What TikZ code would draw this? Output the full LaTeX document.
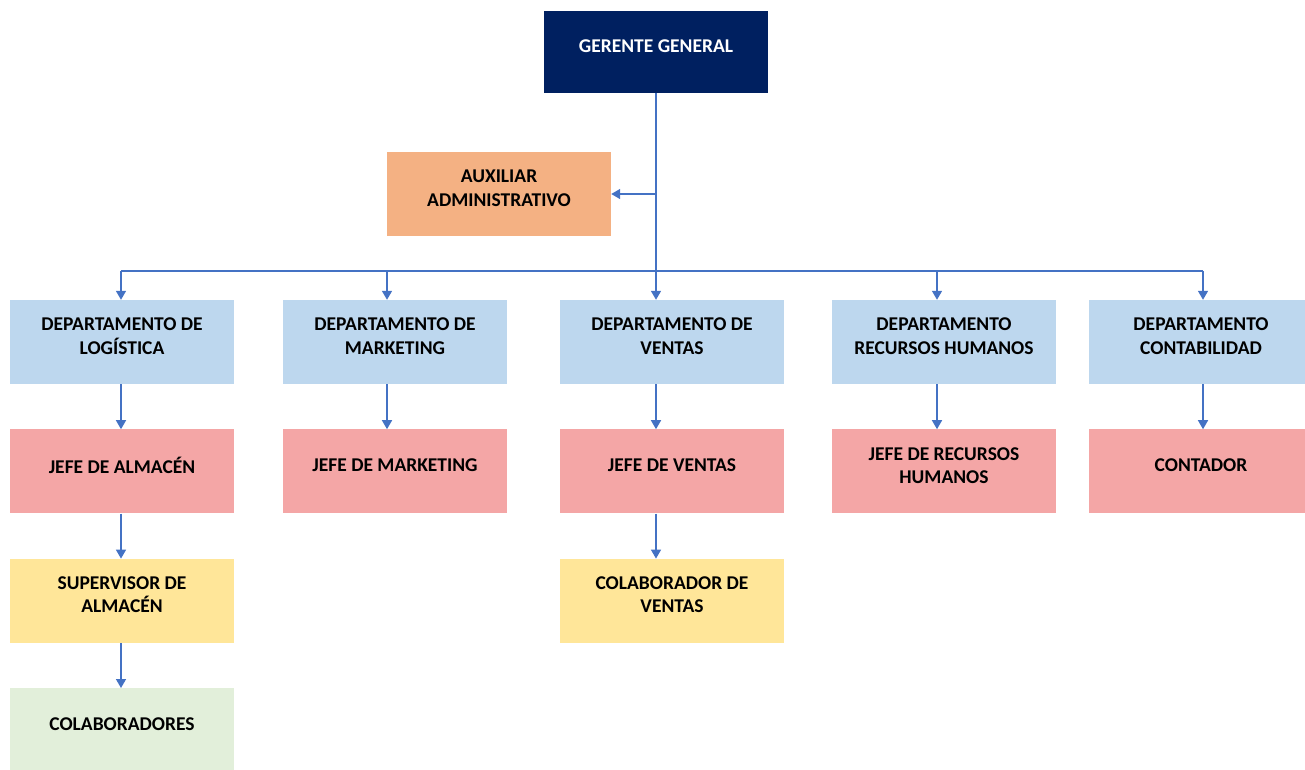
\documentclass[tikz,border=0pt]{standalone}
\usepackage{fontspec}
\setmainfont{Carlito}
\usetikzlibrary{positioning,arrows.meta}
\definecolor{navy}{HTML}{002060}
\definecolor{orangebox}{HTML}{F4B183}
\definecolor{bluebox}{HTML}{BDD7EE}
\definecolor{pinkbox}{HTML}{F4A6A6}
\definecolor{yellowbox}{HTML}{FFE699}
\definecolor{greenbox}{HTML}{E2EFDA}
\definecolor{lineblue}{HTML}{4472C4}
\begin{document}
\begin{tikzpicture}[x=1pt,y=-1pt,node distance=45pt]
        \tikzstyle{box} = [rectangle, minimum width=224pt, minimum height=84pt, inner sep=0pt, align=center, text depth=12pt, font=\bfseries\fontsize{19.5}{23.5}\selectfont]
        \tikzstyle{line} = [line width=1.5pt, draw=lineblue]
        \tikzstyle{arrow} = [line, -{Triangle[length=9pt,width=10pt]}]
        \useasboundingbox (0,0) rectangle (1305,769);
        \node (gerente) [box, fill=navy, text=white, minimum height=82pt] at (656,52) {GERENTE GENERAL};
        \node (auxiliar) [box, fill=orangebox] at (499,194) {AUXILIAR\\ADMINISTRATIVO};

        \node (dlog) [box, fill=bluebox] at (122,342) {DEPARTAMENTO DE\\LOGÍSTICA};
        \node (dmkt) [box, fill=bluebox] at (395,342) {DEPARTAMENTO DE\\MARKETING};
        \node (dven) [box, fill=bluebox] at (672,342) {DEPARTAMENTO DE\\VENTAS};
        \node (drh) [box, fill=bluebox] at (944,342) {DEPARTAMENTO\\RECURSOS HUMANOS};
        \node (dcont) [box, fill=bluebox] at (1201,342) {DEPARTAMENTO\\CONTABILIDAD};

        \node (jalm) [box, fill=pinkbox, below=of dlog] {JEFE DE ALMACÉN};
        \node (jmkt) [box, fill=pinkbox, below=of dmkt] {JEFE DE MARKETING};
        \node (jven) [box, fill=pinkbox, below=of dven] {JEFE DE VENTAS};
        \node (jrh) [box, fill=pinkbox, below=of drh] {JEFE DE RECURSOS\\HUMANOS};
        \node (cont) [box, fill=pinkbox, below=of dcont] {CONTADOR};

        \node (salm) [box, fill=yellowbox, below=of jalm] {SUPERVISOR DE\\ALMACÉN};
        \node (cven) [box, fill=yellowbox, below=of jven] {COLABORADOR DE\\VENTAS};
        \node (colab) [box, fill=greenbox, below=of salm] {COLABORADORES};

        % bus line under the auxiliary box
        \coordinate (c1) at (121,271);
        \coordinate (c2) at (387,271);
        \coordinate (c3) at (gerente.south |- c1);
        \coordinate (c4) at (937,271);
        \coordinate (c5) at (1203,271);

        \draw [line] (gerente.south) -- (c3);
        \draw [line] (c1) -- (c5);
        \draw [arrow] (gerente.south |- auxiliar.east) -- (auxiliar.east);

        \draw [arrow] (c1) -- (c1 |- dlog.north);
        \draw [arrow] (c2) -- (c2 |- dmkt.north);
        \draw [arrow] (c3) -- (c3 |- dven.north);
        \draw [arrow] (c4) -- (c4 |- drh.north);
        \draw [arrow] (c5) -- (c5 |- dcont.north);

        \draw [arrow] (c1 |- dlog.south) -- (c1 |- jalm.north);
        \draw [arrow] (c2 |- dmkt.south) -- (c2 |- jmkt.north);
        \draw [arrow] (c3 |- dven.south) -- (c3 |- jven.north);
        \draw [arrow] (c4 |- drh.south) -- (c4 |- jrh.north);
        \draw [arrow] (c5 |- dcont.south) -- (c5 |- cont.north);

        \draw [arrow] (c1 |- jalm.south) -- (c1 |- salm.north);
        \draw [arrow] (c3 |- jven.south) -- (c3 |- cven.north);
        \draw [arrow] (c1 |- salm.south) -- (c1 |- colab.north);
    \end{tikzpicture}
\end{document}
